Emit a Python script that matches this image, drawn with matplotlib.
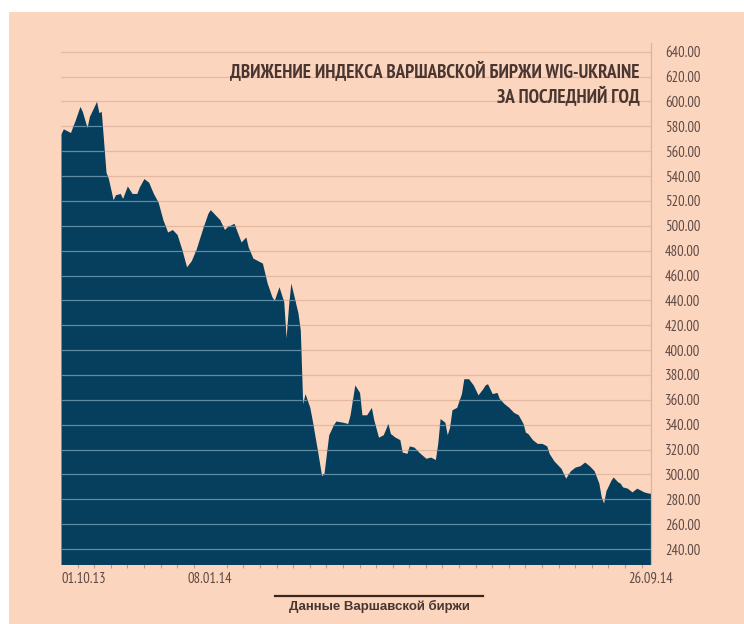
import matplotlib
matplotlib.use('Agg')
import matplotlib.pyplot as plt
from matplotlib.patches import Rectangle
from matplotlib.ticker import FixedLocator, MultipleLocator

# trading session number (0 = 01.10.13 ... 249 = 26.09.14) and index close
sessions = [0, 1, 4, 6, 8, 9, 11, 12, 15, 16, 17, 19, 20, 22, 23, 25, 26, 28, 30, 32,
            33, 35, 37, 39, 41, 43, 45, 47, 49, 51, 53, 55, 57, 60, 62, 63, 65, 67, 69, 70,
            73, 74, 76, 78, 79, 81, 83, 85, 87, 89, 90, 92, 94, 95, 96, 97, 100, 101, 102, 103,
            105, 106, 108, 110, 111, 113, 115, 116, 119, 121, 122, 124, 126, 127, 129, 131, 132, 134, 136, 138,
            139, 141, 143, 144, 146, 147, 149, 151, 154, 156, 158, 159, 160, 162, 163, 164, 165, 167, 169, 170,
            172, 174, 176, 178, 179, 180, 182, 184, 185, 187, 189, 191, 193, 195, 196, 197, 199, 201, 203, 205,
            206, 208, 211, 213, 215, 217, 219, 221, 223, 225, 227, 228, 229, 230, 232, 233, 235, 236, 237, 239,
            241, 243, 246, 248, 249]
values = [574, 578, 575, 585, 596, 592, 579, 588, 600, 591, 592, 543, 538, 521, 525, 526, 522, 532, 526, 526,
          531, 538, 535, 526, 519, 505, 495, 497, 493, 481, 467, 472, 481, 499, 510, 513, 509, 505, 497, 499,
          502, 497, 487, 491, 483, 474, 472, 470, 454, 443, 440, 451, 439, 410, 435, 454, 430, 416, 357, 365,
          354, 344, 322, 299, 301, 332, 340, 343, 342, 341, 348, 372, 366, 348, 348, 354, 344, 330, 332, 341,
          333, 330, 328, 318, 317, 323, 322, 318, 313, 314, 312, 325, 345, 342, 332, 338, 352, 354, 365, 377,
          377, 372, 364, 369, 372, 373, 365, 366, 361, 357, 354, 350, 348, 341, 334, 333, 328, 325, 325, 323,
          317, 311, 305, 297, 303, 306, 307, 310, 307, 303, 293, 282, 277, 287, 295, 298, 294, 293, 290, 289,
          286, 289, 286, 285, 285]

tick_sessions = [0, 63, 249]
tick_labels = ['01.10.13', '08.01.14', '26.09.14']
y_ticks = [240, 260, 280, 300, 320, 340, 360, 380, 400, 420, 440,
           460, 480, 500, 520, 540, 560, 580, 600, 620, 640]

TITLE_1 = 'ДВИЖЕНИЕ ИНДЕКСА ВАРШАВСКОЙ БИРЖИ WIG-UKRAINE'
TITLE_2 = 'ЗА ПОСЛЕДНИЙ ГОД'
SOURCE = 'Данные Варшавской биржи'

BG = '#fcd5be'
FILL = '#063e5d'
GRID_LIGHT = '#e6b9a3'
GRID_DARK = '#5d8ca5'
TEXT = '#4a3631'
LABEL = '#5e4a45'
NARROW = ['PT Sans Narrow', 'DejaVu Sans']

fig = plt.figure(figsize=(7.44, 6.24), dpi=100, facecolor='white')
fig.patches.append(Rectangle((9 / 744, 0), 1, 1 - 12 / 624, transform=fig.transFigure,
                             facecolor=BG, edgecolor='none', zorder=-10))

ax = fig.add_axes([61 / 744, 1 - 564 / 624, 590 / 744, 521 / 624])
ax.set_facecolor(BG)
ax.set_xlim(0, 249)
ax.set_ylim(228, 647)

# grid under the area (peach part)
for y in y_ticks:
    ax.axhline(y, color=GRID_LIGHT, lw=0.9, zorder=1)

area = ax.fill_between(sessions, values, 200, color=FILL, lw=0, zorder=2)

# grid on top of the area, clipped to it
clip = area.get_paths()[0]
for y in y_ticks:
    ln = ax.axhline(y, color=GRID_DARK, lw=0.9, zorder=3)
    ln.set_clip_path(clip, area.get_transform())

for side in ['left', 'top', 'bottom']:
    ax.spines[side].set_visible(False)
ax.spines['right'].set_color('#dcb3a0')
ax.spines['right'].set_linewidth(0.9)

ax.yaxis.tick_right()
ax.set_yticks(y_ticks)
ax.set_yticklabels([f'{v:.2f}' for v in y_ticks], family=NARROW, fontsize=10.5, color=LABEL)
ax.tick_params(axis='y', length=0, pad=10)

ax.xaxis.set_major_locator(FixedLocator(tick_sessions))
ax.xaxis.set_minor_locator(MultipleLocator(7))
ax.set_xticklabels(tick_labels, family=NARROW, fontsize=10.5, color=LABEL)
ax.tick_params(axis='x', which='major', length=0, pad=6)
ax.tick_params(axis='x', which='minor', length=3, color='#c99a88', width=0.8)
xl = ax.get_xticklabels()
xl[0].set_ha('left')
xl[0].set_x(-1.5)

fig.text(640 / 744, 1 - 72 / 624, TITLE_1, ha='right', va='center', family=NARROW,
         fontsize=13.7, fontweight='bold', color=TEXT)
fig.text(640 / 744, 1 - 97 / 624, TITLE_2, ha='right', va='center', family=NARROW,
         fontsize=13.7, fontweight='bold', color=TEXT)

fig.lines.append(plt.Line2D([275 / 744, 483 / 744], [1 - 596 / 624, 1 - 596 / 624],
                            transform=fig.transFigure, color='#3a2520', lw=1.6))
fig.text(379 / 744, 1 - 606 / 624, SOURCE, ha='center', va='center', family=['Liberation Sans', 'DejaVu Sans'],
         fontsize=9.5, fontweight='bold', color=TEXT)

fig.savefig('out.png', dpi=100, facecolor='white')
